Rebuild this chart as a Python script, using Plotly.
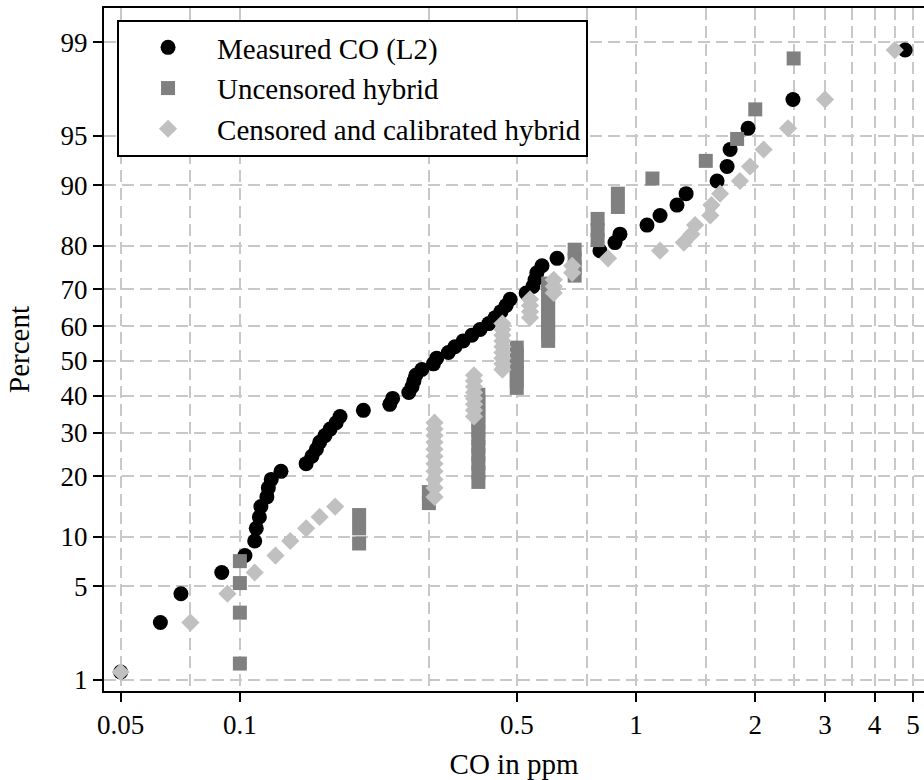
from statistics import NormalDist
import plotly.graph_objects as go

# CO concentrations (ppm), sorted ascending
measured_co = [0.050, 0.063, 0.071, 0.090, 0.103, 0.109, 0.110, 0.112, 0.113, 0.117,
               0.118, 0.120, 0.127, 0.147, 0.152, 0.156, 0.159, 0.164, 0.169, 0.175,
               0.179, 0.205, 0.239, 0.243, 0.267, 0.272, 0.275, 0.278, 0.288, 0.308,
               0.314, 0.336, 0.349, 0.366, 0.385, 0.404, 0.425, 0.441, 0.456, 0.470,
               0.481, 0.528, 0.549, 0.556, 0.562, 0.579, 0.632, 0.811, 0.885, 0.911,
               1.066, 1.150, 1.269, 1.338, 1.602, 1.698, 1.728, 1.918, 2.49, 4.78]

uncensored_hybrid = [0.1, 0.1, 0.1, 0.1, 0.2, 0.2, 0.2, 0.3, 0.3,
                     0.4, 0.4, 0.4, 0.4, 0.4, 0.4, 0.4, 0.4, 0.4, 0.4, 0.4, 0.4,
                     0.5, 0.5, 0.5, 0.5, 0.5, 0.5, 0.5,
                     0.6, 0.6, 0.6, 0.6, 0.6, 0.6, 0.6, 0.6, 0.6,
                     0.7, 0.7, 0.7, 0.7, 0.8, 0.8, 0.8, 0.9, 0.9,
                     1.1, 1.5, 1.8, 2.0, 2.5]

censored_hybrid = [0.050, 0.075, 0.093, 0.109, 0.123, 0.134, 0.147, 0.159, 0.174,
                   0.31, 0.31, 0.31, 0.31, 0.31, 0.31, 0.31, 0.31, 0.31, 0.31, 0.31,
                   0.39, 0.39, 0.39, 0.39, 0.39, 0.39, 0.39, 0.39,
                   0.46, 0.46, 0.46, 0.46, 0.46, 0.46, 0.46, 0.46, 0.46,
                   0.54, 0.54, 0.54, 0.54, 0.62, 0.62, 0.62, 0.69, 0.69,
                   0.85, 1.15, 1.32, 1.38, 1.41, 1.54, 1.55, 1.63, 1.83, 1.94,
                   2.10, 2.42, 3.0, 4.5]

# cumulative percent (plotting positions) for samples of 60 and 51
pct_60 = [1.16, 2.81, 4.47, 6.13, 7.78, 9.44, 11.09, 12.75, 14.40, 16.06,
          17.72, 19.37, 21.03, 22.68, 24.34, 25.99, 27.65, 29.30, 30.96, 32.62,
          34.27, 35.93, 37.58, 39.24, 40.89, 42.55, 44.21, 45.86, 47.52, 49.17,
          50.83, 52.48, 54.14, 55.79, 57.45, 59.11, 60.76, 62.42, 64.07, 65.73,
          67.38, 69.04, 70.70, 72.35, 74.01, 75.66, 77.32, 78.97, 80.63, 82.28,
          83.94, 85.60, 87.25, 88.91, 90.56, 92.22, 93.87, 95.53, 97.19, 98.84]

pct_51 = [1.36, 3.31, 5.25, 7.20, 9.14, 11.09, 13.04, 14.98, 16.93, 18.87,
          20.82, 22.76, 24.71, 26.65, 28.60, 30.54, 32.49, 34.44, 36.38, 38.33,
          40.27, 42.22, 44.16, 46.11, 48.05, 50.00, 51.95, 53.89, 55.84, 57.78,
          59.73, 61.67, 63.62, 65.56, 67.51, 69.46, 71.40, 73.35, 75.29, 77.24,
          79.18, 81.13, 83.07, 85.02, 86.96, 88.91, 90.86, 92.80, 94.75, 96.69,
          98.64]

y_tick_pct = [1, 5, 10, 20, 30, 40, 50, 60, 70, 80, 90, 95, 99]
x_tick_vals = [0.05, 0.1, 0.5, 1, 2, 3, 4, 5]
x_tick_text = ["0.05", "0.1", "0.5", "1", "2", "3", "4", "5"]
x_grid_extra = [0.075, 0.3, 0.75, 1.5, 2.5, 3.5, 4.5]

FONT = "Liberation Serif, Times New Roman, serif"
GRID = "#c8c8c8"

# probability (normal quantile) scale for the percent axis
probit = NormalDist().inv_cdf


def to_z(pcts):
    return [probit(p / 100.0) for p in pcts]


fig = go.Figure()
fig.add_trace(go.Scatter(
    x=measured_co, y=to_z(pct_60), mode="markers", name="Measured CO (L2)",
    marker=dict(symbol="circle", size=15, color="black", line=dict(width=0)),
    legendgroup="a"))
fig.add_trace(go.Scatter(
    x=uncensored_hybrid, y=to_z(pct_51), mode="markers", name="Uncensored hybrid",
    marker=dict(symbol="square", size=14, color="#808080", line=dict(width=0)),
    legendgroup="b"))
fig.add_trace(go.Scatter(
    x=censored_hybrid, y=to_z(pct_60), mode="markers",
    name="Censored and calibrated hybrid",
    marker=dict(symbol="diamond", size=14, color="#c0c0c0", line=dict(width=0)),
    legendgroup="c"))

fig.update_layout(
    width=924, height=780,
    margin=dict(l=104, r=0, t=8, b=89),
    paper_bgcolor="white", plot_bgcolor="white",
    font=dict(family=FONT, size=27, color="black"),
    showlegend=True,
    legend=dict(
        x=0.0159, y=0.9824, xanchor="left", yanchor="top",
        bgcolor="white", bordercolor="black", borderwidth=2,
        font=dict(family=FONT, size=29, color="black"),
        itemwidth=88, tracegroupgap=0, traceorder="normal",
    ),
    xaxis=dict(
        type="log", range=[-1.343, 0.727],
        tickmode="array", tickvals=x_tick_vals, ticktext=x_tick_text,
        ticks="outside", ticklen=9, tickwidth=2, tickcolor="black",
        showline=True, linewidth=2, linecolor="black", mirror=True,
        showgrid=True, gridcolor=GRID, gridwidth=2, griddash="12px,6px",
        minor=dict(tickmode="array", tickvals=x_grid_extra, ticklen=0,
                   showgrid=True, gridcolor=GRID, gridwidth=2,
                   griddash="12px,6px"),
        zeroline=False, automargin=False,
        title=dict(text="CO in ppm", font=dict(family=FONT, size=29), standoff=15),
        tickfont=dict(family=FONT, size=27),
    ),
    yaxis=dict(
        range=[-2.409, 2.577],
        tickmode="array", tickvals=to_z(y_tick_pct),
        ticktext=[str(v) for v in y_tick_pct],
        ticks="outside", ticklen=9, tickwidth=2, tickcolor="black",
        showline=True, linewidth=2, linecolor="black", mirror=False,
        showgrid=True, gridcolor=GRID, gridwidth=2, griddash="12px,6px",
        zeroline=False, automargin=False,
        title=dict(text="Percent", font=dict(family=FONT, size=29), standoff=22),
        tickfont=dict(family=FONT, size=27),
    ),
)

fig.write_html("out.html")
